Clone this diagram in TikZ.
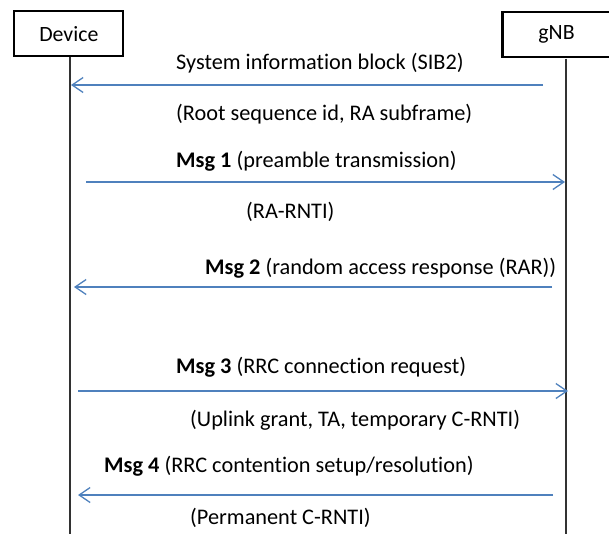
\documentclass[tikz,border=0pt]{standalone}
\usepackage{fontspec}
\setmainfont[Ligatures=NoCommon]{Carlito}
\usetikzlibrary{arrows.meta}
\definecolor{msgblue}{RGB}{79,129,189}
\definecolor{lifegray}{RGB}{50,50,50}
\tikzset{
  entity/.style={draw=black, line width=2.2pt, minimum height=45pt, inner sep=0pt, font=\fontsize{21.8}{24}\selectfont},
  lifeline/.style={draw=lifegray, line width=1.3pt},
  msg/.style={draw=msgblue, line width=1.3pt, -{Straight Barb[length=11pt,width=15pt,line width=1.3pt]}},
  lbl/.style={anchor=west, inner sep=0pt, font=\fontsize{22.3}{24}\selectfont}
}
\begin{document}
\begin{tikzpicture}[x=1pt,y=-1pt]
\useasboundingbox (0,0) rectangle (609,533);
\node[entity, minimum width=109pt] (dev) at (68.8,33.7) {Device};
\node[entity, minimum width=108pt] (gnb) at (556.5,34.5) {gNB};
\coordinate (devtop) at (70,56.8);
\coordinate (devbot) at (70,535);
\coordinate (gnbtop) at (566,58.5);
\coordinate (gnbbot) at (566,535);
\draw[lifeline] (devtop) -- (devbot);
\draw[lifeline] (gnbtop) -- (gnbbot);
% message end points
\coordinate (s1) at (543,85);  \coordinate (e1) at (71,85);
\coordinate (s2) at (86,182);  \coordinate (e2) at (565,182);
\coordinate (s3) at (552,287); \coordinate (e3) at (74,287);
\coordinate (s4) at (78,391);  \coordinate (e4) at (568,391);
\coordinate (s5) at (553,495); \coordinate (e5) at (78,495);
\draw[msg] (s1) -- (e1);
\draw[msg] (s2) -- (e2);
\draw[msg] (s3) -- (e3);
\draw[msg] (s4) -- (e4);
\draw[msg] (s5) -- (e5);
% labels
\node[lbl] (t1) at (176,63) {System information block (SIB2)};
\node[lbl] (t1b) at (176,114) {(Root sequence id, RA subframe)};
\node[lbl] (t2) at (176,161) {\textbf{Msg 1} (preamble transmission)};
\node[lbl] (t2b) at (246,212) {(RA-RNTI)};
\node[lbl] (t3) at (205,268) {\textbf{Msg 2} (random access response (RAR))};
\node[lbl] (t4) at (176,367) {\textbf{Msg 3} (RRC connection request)};
\node[lbl] (t4b) at (190,420) {(Uplink grant, TA, temporary C-RNTI)};
\node[lbl] (t5) at (104,466) {\textbf{Msg 4} (RRC contention setup/resolution)};
\node[lbl] (t5b) at (190,518) {(Permanent C-RNTI)};
\end{tikzpicture}
\end{document}
